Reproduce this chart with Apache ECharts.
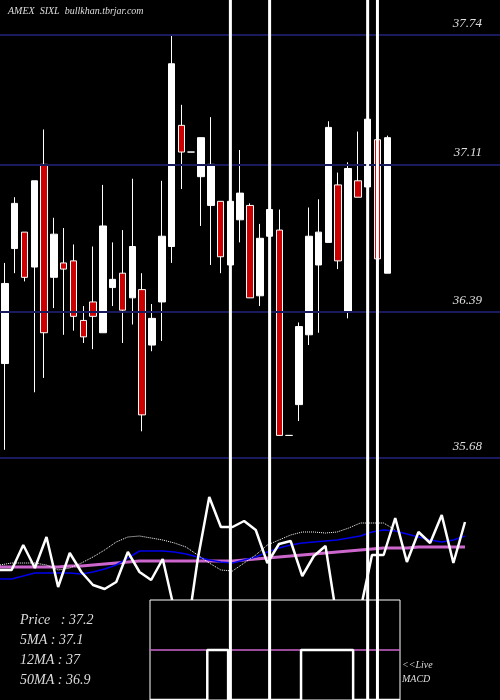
<!DOCTYPE html>
<html><head><meta charset="utf-8">
<script src="https://cdn.jsdelivr.net/npm/echarts@6/dist/echarts.min.js"></script>
<style>html,body{margin:0;padding:0;background:#000}#c{width:500px;height:700px}</style>
</head><body><div id="c"></div>
<script>
// candles: [open, close, low, high]
const candles = [
[36.14,36.53,35.72,36.63],[36.70,36.92,36.58,36.95],[36.78,36.56,36.54,36.78],[36.61,37.03,36.00,37.03],
[37.11,36.29,36.07,37.28],[36.56,36.77,36.41,36.85],[36.63,36.60,36.28,36.80],[36.64,36.37,36.30,36.72],
[36.35,36.27,36.24,36.42],[36.44,36.37,36.21,36.71],[36.29,36.81,36.29,37.01],[36.51,36.55,36.42,36.73],
[36.58,36.40,36.24,36.79],[36.46,36.71,36.33,37.04],[36.50,35.89,35.81,36.58],[36.23,36.36,36.20,36.43],
[36.44,36.76,36.25,37.03],[36.71,37.60,36.63,37.74],[37.30,37.17,36.99,37.40],[37.17,37.17,37.17,37.17],
[37.05,37.24,36.81,37.24],[36.91,37.11,36.62,37.34],[36.93,36.66,36.58,36.93],[36.62,36.93,36.26,36.93],
[36.84,36.97,36.73,37.18],[36.91,36.46,36.46,36.92],[36.47,36.75,36.42,36.82],[36.76,36.89,36.76,37.01],
[36.79,35.79,35.79,36.89],[35.79,35.79,35.79,35.79],[35.94,36.32,35.86,36.34],[36.28,36.76,36.23,36.90],
[36.62,36.78,36.29,36.94],[36.73,37.29,36.73,37.32],[37.01,36.64,36.60,37.07],[36.39,37.09,36.36,37.12],
[37.03,36.95,36.95,37.27],[37.00,37.33,36.95,37.33],[37.23,36.65,36.65,37.25],[36.58,37.24,36.58,37.25]
];
const priceLevels = [37.74, 37.11, 36.39, 35.68];
const glitchIdx = [23, 27, 37, 38];
const oscWhite = [30,30,55,32,63,13,47,28,15,11,18,48,28,20,41,-10,-40,40,103,73,73,79,70,37,56,59,24,44,54,-20,-40,-10,45,45,82,38,68,57,85,37,78];
const oscBlue = [21,21,24,27,27,27,27,26,28,31,35,42,49,49,49,48,46,43,40,38,37,40,43,48,52,55,57,58,59,60,62,64,68,70,69,66,63,60,58,60,64];
const oscPink = [33,33,33,33,33,33,34,34,35,36,37,38,39,39,39,39,39,39,39,39,39,40,41,42,43,44,45,46,47,48,49,50,51,52,52,52,53,53,53,53,53];
const oscDotted = [35,37,37,37,35,30,32,37,43,50,58,63,64,62,60,57,53,45,37,30,29,37,45,55,60,65,68,68,67,68,72,77,77,77,70];
const macdSignal = new Array(25).fill(50);
const macdLine = [0,0,0,0,0,0,50,50,0,0,0,0,0,0,0,50,50,50,50,50,0,0,0,0,0];
const infoLines = ['Price   : 37.2','5MA : 37.1','12MA : 37','50MA : 36.9'];

const cats = Array.from({length:51},(_,i)=>i);
const glitch = cats.map(i=>glitchIdx.includes(i)?1:null);
const oscCats = oscWhite.map((_,i)=>i);
const macdCats = macdLine.map((_,i)=>i);
const font = 'Liberation Serif';
const chart = echarts.init(document.getElementById('c'));
chart.setOption({
  backgroundColor:'#000', animation:false,
  grid:[
    {left:0,right:0,top:35,bottom:242},
    {left:0,right:35,top:480,bottom:100},
    {left:150,right:100,top:600,bottom:0,show:true,backgroundColor:'#000',borderColor:'#fff',borderWidth:1,z:5},
    {left:0,right:0,top:0,bottom:0}
  ],
  xAxis:[
    {gridIndex:0,type:'category',data:cats,show:false},
    {gridIndex:1,type:'category',data:oscCats,boundaryGap:false,show:false},
    {gridIndex:2,type:'category',data:macdCats,boundaryGap:false,show:false},
    {gridIndex:3,type:'category',data:cats,show:false}
  ],
  yAxis:[
    {gridIndex:0,min:35.68,max:37.74,show:false,splitLine:{show:false}},
    {gridIndex:1,min:0,max:120,show:false},
    {gridIndex:2,min:0,max:100,show:false},
    {gridIndex:3,min:0,max:1,show:false}
  ],
  graphic:[
    {type:'text',left:8,top:6,style:{text:'AMEX  SIXL  bullkhan.tbrjar.com',fill:'#ddd',font:'italic 10px '+font}},
    ...infoLines.map((t,i)=>({type:'text',left:20,top:613+i*20,z:20,style:{text:t,fill:'#ddd',font:'italic 14px '+font}})),
    {type:'text',left:402,top:658,z:20,style:{text:'<<Live\nMACD',fill:'#ddd',font:'italic 10px '+font,lineHeight:14}}
  ],
  series:[
    {type:'candlestick',xAxisIndex:0,yAxisIndex:0,data:candles,barWidth:7,clip:false,
     itemStyle:{color:'#fff',borderColor:'#fff',color0:'#cc0000',borderColor0:'#fff',borderWidth:1},
     markLine:{symbol:'none',silent:true,lineStyle:{color:'#1a1a5e',width:2,type:'solid'},
       label:{position:'insideEndTop',distance:[18,5],color:'#ddd',fontFamily:font,fontStyle:'italic',fontSize:13,formatter:p=>p.value.toFixed(2)},
       data:priceLevels.map(v=>({yAxis:v}))}},
    {type:'line',xAxisIndex:1,yAxisIndex:1,data:oscPink,symbol:'none',lineStyle:{color:'#cc66cc',width:3}},
    {type:'line',xAxisIndex:1,yAxisIndex:1,data:oscBlue,symbol:'none',lineStyle:{color:'#0000ee',width:1.5}},
    {type:'line',xAxisIndex:1,yAxisIndex:1,data:oscDotted,symbol:'none',lineStyle:{color:'#fff',width:1,type:'dotted'}},
    {type:'line',xAxisIndex:1,yAxisIndex:1,data:oscWhite,symbol:'none',clip:true,lineStyle:{color:'#fff',width:2.5}},
    {type:'line',xAxisIndex:2,yAxisIndex:2,data:macdSignal,symbol:'none',z:6,lineStyle:{color:'#cc66cc',width:1.5}},
    {type:'line',xAxisIndex:2,yAxisIndex:2,data:macdLine,step:'middle',symbol:'none',z:6,lineStyle:{color:'#fff',width:2.5}},
    {type:'bar',xAxisIndex:3,yAxisIndex:3,data:glitch,barWidth:3,z:10,itemStyle:{color:'#fff'}}
  ]
});
</script></body></html>
